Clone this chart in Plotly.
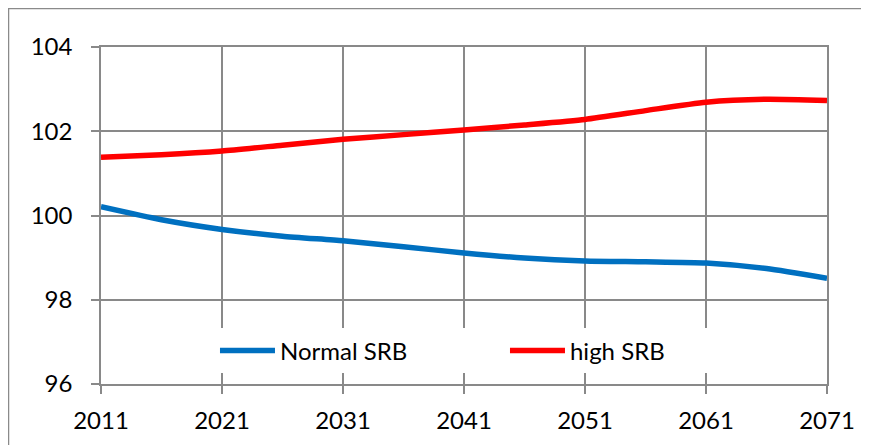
import plotly.graph_objects as go

# years (every 5 years) and sex ratio values
years = [2011, 2016, 2021, 2026, 2031, 2036, 2041, 2046, 2051, 2056, 2061, 2066, 2071]
normal_srb = [100.21, 99.90, 99.67, 99.51, 99.40, 99.26, 99.11, 98.99, 98.92, 98.90, 98.87, 98.74, 98.51]
high_srb = [101.38, 101.44, 101.53, 101.67, 101.81, 101.92, 102.03, 102.15, 102.28, 102.49, 102.69, 102.76, 102.73]

x_ticks = [2011, 2021, 2031, 2041, 2051, 2061, 2071]
y_ticks = [96, 98, 100, 102, 104]

grid = "#898989"

fig = go.Figure()
fig.add_trace(go.Scatter(x=years, y=normal_srb, name="Normal SRB", mode="lines",
                         line=dict(color="#0070C0", width=5.5, shape="spline", smoothing=0.6)))
fig.add_trace(go.Scatter(x=years, y=high_srb, name="high SRB", mode="lines",
                         line=dict(color="#FF0000", width=5.5, shape="spline", smoothing=0.6)))

# page body has an 8px margin, so the figure is a bit smaller than the window
fig.update_layout(
    width=861, height=437,
    margin=dict(l=93, r=42, t=39, b=61),
    paper_bgcolor="white", plot_bgcolor="white",
    font=dict(family="Lato, Open Sans, sans-serif", size=24, color="black"),
    legend=dict(orientation="h", x=0.157, y=0.098, xanchor="left", yanchor="middle",
                bgcolor="white", entrywidth=220, itemwidth=55,
                font=dict(size=24)),
    # chart border: only the left and top edges are inside the picture
    shapes=[dict(type="path", xref="paper", yref="paper",
                 path="M -0.1274 -0.4 L -0.1274 1.114 L 1.3 1.114",
                 line=dict(color="#8a8a8a", width=1.5))],
)
fig.update_xaxes(range=[2011, 2071], tickvals=x_ticks, showgrid=True, gridcolor=grid, gridwidth=1.5,
                 showline=True, linecolor=grid, linewidth=1.5, mirror=True,
                 ticks="outside", ticklen=8, tickcolor=grid, tickwidth=1.5,
                 ticklabelstandoff=6, zeroline=False)
fig.update_yaxes(range=[96, 104], tickvals=y_ticks, showgrid=True, gridcolor=grid, gridwidth=1.5,
                 showline=True, linecolor=grid, linewidth=1.5, mirror=True,
                 ticks="outside", ticklen=8, tickcolor=grid, tickwidth=1.5,
                 ticklabelstandoff=14, zeroline=False)

fig.write_html("out.html")
